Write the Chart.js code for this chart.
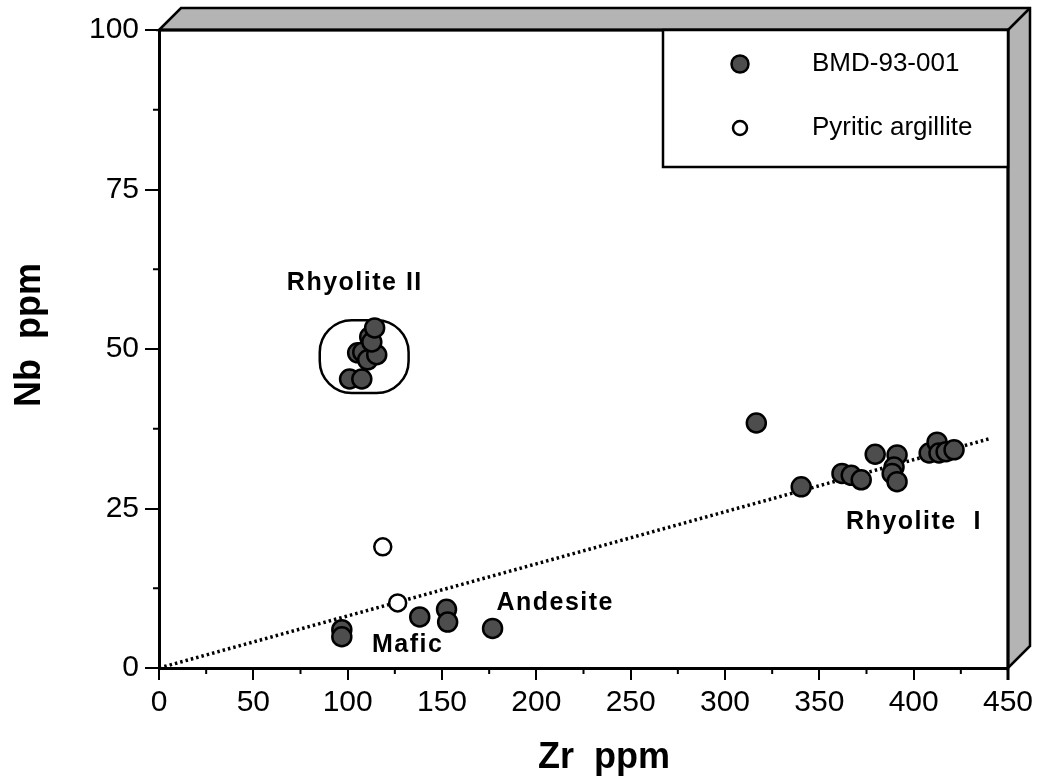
<!DOCTYPE html>
<html>
<head>
<meta charset="utf-8">
<script src="https://cdn.jsdelivr.net/npm/chart.js@4.4.0/dist/chart.umd.min.js"></script>
<style>
  body { margin: 0; background: #fff; }
  canvas { display: block; }
</style>
</head>
<body>
<canvas id="myChart" width="1042" height="782"></canvas>
<script>
// BMD-93-001 samples (Zr ppm, Nb ppm)
let bmdZr = [101, 107.5, 105.3, 108, 110.6, 115.4, 111.7, 112.8, 114.3,
  316.6,
  340.4, 362, 366.9, 372.2, 379.6, 391.2, 389.6, 388.6, 391.2, 408.2, 412.4, 413.4, 417.2, 421.4,
  96.9, 96.9, 138.2, 152.4, 153, 176.8];
let bmdNb = [45.3, 45.3, 49.4, 49.5, 48.3, 49.1, 51.9, 51.1, 53.3,
  38.4,
  28.4, 30.5, 30.2, 29.5, 33.5, 33.4, 31.5, 30.5, 29.2, 33.7, 35.4, 33.7, 33.9, 34.2,
  6.0, 4.9, 8.0, 9.2, 7.2, 6.2];

// pyritic argillite
let pyrZr = [118.6, 126.5];
let pyrNb = [19.0, 10.2];

// dotted reference line
let trendZr = [0, 441];
let trendNb = [0, 36];

let xTicks = [0, 50, 100, 150, 200, 250, 300, 350, 400, 450];
let yTicks = [0, 25, 50, 75, 100];

let seriesNames = ['BMD-93-001', 'Pyritic argillite'];
let groupLabels = ['Rhyolite II', 'Rhyolite  I', 'Andesite', 'Mafic'];

function toPoints(xs, ys) {
    let pts = [];
    for (let i = 0; i < xs.length; i++) {
        pts.push({ x: xs[i], y: ys[i] });
    }
    return pts;
}

const FONT = '"Liberation Sans", Arial, Helvetica, sans-serif';
const SHADE = '#b4b4b4';

let framePlugin = {
    id: 'frame',
    beforeDatasetsDraw(chart) {
        let ctx = chart.ctx;
        let a = chart.chartArea;
        let xs = chart.scales.x;
        let ys = chart.scales.y;
        let d = 22;

        ctx.save();
        // 3D shaded top and right
        ctx.fillStyle = SHADE;
        ctx.strokeStyle = '#000';
        ctx.lineWidth = 2.5;
        ctx.beginPath();
        ctx.moveTo(a.left, a.top);
        ctx.lineTo(a.left + d, a.top - d);
        ctx.lineTo(a.right + d, a.top - d);
        ctx.lineTo(a.right + d, a.bottom - d);
        ctx.lineTo(a.right, a.bottom);
        ctx.lineTo(a.right, a.top);
        ctx.closePath();
        ctx.fill();
        ctx.stroke();
        ctx.beginPath();
        ctx.moveTo(a.right, a.top);
        ctx.lineTo(a.right + d, a.top - d);
        ctx.stroke();
        ctx.lineWidth = 3;
        ctx.beginPath();
        ctx.moveTo(a.left, a.top);
        ctx.lineTo(a.right, a.top);
        ctx.lineTo(a.right, a.bottom + 12);
        ctx.stroke();

        // minor ticks
        ctx.lineWidth = 2;
        ctx.beginPath();
        for (let v = 25; v < 450; v += 50) {
            let px = xs.getPixelForValue(v);
            ctx.moveTo(px, a.bottom);
            ctx.lineTo(px, a.bottom + 6);
        }
        for (let v = 12.5; v < 100; v += 25) {
            let py = ys.getPixelForValue(v);
            ctx.moveTo(a.left, py);
            ctx.lineTo(a.left - 6, py);
        }
        ctx.stroke();

        // outline around Rhyolite II group
        let x1 = xs.getPixelForValue(85.2), x2 = xs.getPixelForValue(132.3);
        let y1 = ys.getPixelForValue(54.5), y2 = ys.getPixelForValue(43.1);
        ctx.lineWidth = 2.5;
        ctx.beginPath();
        ctx.roundRect(x1, y1, x2 - x1, y2 - y1, 32);
        ctx.stroke();

        // group labels
        ctx.fillStyle = '#000';
        ctx.font = 'bold 25px ' + FONT;
        ctx.textAlign = 'center';
        ctx.textBaseline = 'middle';
        ctx.letterSpacing = '1.5px';
        let lx = [103.8, 400.2, 210, 131.8];
        let ly = [60.3, 22.9, 10.2, 3.6];
        for (let i = 0; i < groupLabels.length; i++) {
            ctx.fillText(groupLabels[i], xs.getPixelForValue(lx[i]), ys.getPixelForValue(ly[i]));
        }
        ctx.letterSpacing = '0px';

        // axis titles
        ctx.font = 'bold 36px ' + FONT;
        ctx.fillText('Zr  ppm', 604, 758);
        ctx.translate(30, 335);
        ctx.rotate(-Math.PI / 2);
        ctx.fillText('Nb  ppm', 0, 0);
        ctx.restore();
    },
    afterDraw(chart) {
        let ctx = chart.ctx;
        let a = chart.chartArea;
        ctx.save();
        // legend box
        ctx.fillStyle = '#fff';
        ctx.fillRect(663, a.top, a.right - 663, 137);
        ctx.strokeStyle = '#000';
        ctx.lineWidth = 2.5;
        ctx.strokeRect(663, a.top, a.right - 663, 137);

        let ds = chart.data.datasets;
        let rows = [64, 128];
        for (let i = 0; i < 2; i++) {
            ctx.beginPath();
            ctx.arc(740, rows[i], i === 0 ? 8.5 : 7, 0, Math.PI * 2);
            ctx.fillStyle = ds[i].backgroundColor;
            ctx.fill();
            ctx.lineWidth = 2.5;
            ctx.strokeStyle = '#000';
            ctx.stroke();
            ctx.fillStyle = '#000';
            ctx.font = '26px ' + FONT;
            ctx.textAlign = 'left';
            ctx.textBaseline = 'middle';
            ctx.fillText(seriesNames[i], 812, rows[i]);
        }
        ctx.restore();
    }
};

let ctx = document.getElementById('myChart').getContext('2d');
let myChart = new Chart(ctx, {
    type: 'scatter',
    data: {
        datasets: [{
            label: seriesNames[0],
            data: toPoints(bmdZr, bmdNb),
            backgroundColor: '#4d4d4d',
            borderColor: '#000',
            borderWidth: 2.5,
            pointRadius: 9.5
        }, {
            label: seriesNames[1],
            data: toPoints(pyrZr, pyrNb),
            backgroundColor: '#fff',
            borderColor: '#000',
            borderWidth: 2.5,
            pointRadius: 8.5
        }, {
            label: 'trend',
            type: 'line',
            data: toPoints(trendZr, trendNb),
            borderColor: '#000',
            borderWidth: 3.5,
            borderDash: [2.5, 3],
            pointRadius: 0,
            fill: false
        }]
    },
    options: {
        responsive: false,
        animation: false,
        layout: { padding: { top: 30, right: 34, left: 0, bottom: 0 } },
        plugins: {
            legend: { display: false },
            tooltip: { enabled: false }
        },
        scales: {
            x: {
                type: 'linear',
                min: 0,
                max: 450,
                afterFit: function (s) { s.height = 114; },
                afterBuildTicks: function (s) { s.ticks = xTicks.map(v => ({ value: v })); },
                grid: { drawOnChartArea: false, drawTicks: true, tickLength: 12, color: '#000', lineWidth: 2 },
                border: { display: true, color: '#000', width: 3 },
                ticks: { color: '#000', padding: 5, font: { family: FONT, size: 30 }, maxRotation: 0 }
            },
            y: {
                type: 'linear',
                min: 0,
                max: 100,
                afterFit: function (s) { s.width = 159; },
                afterBuildTicks: function (s) { s.ticks = yTicks.map(v => ({ value: v })); },
                grid: { drawOnChartArea: false, drawTicks: true, tickLength: 14, color: '#000', lineWidth: 2 },
                border: { display: true, color: '#000', width: 3 },
                ticks: { color: '#000', padding: 6, font: { family: FONT, size: 30 } }
            }
        }
    },
    plugins: [framePlugin]
});
</script>
</body>
</html>
